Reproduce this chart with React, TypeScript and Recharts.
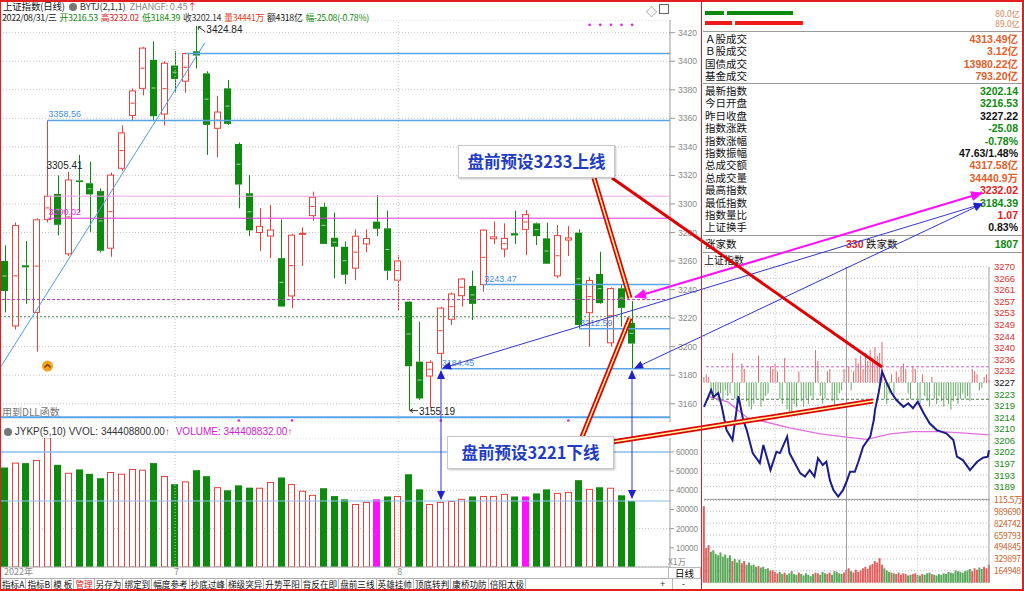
import React from "react";
import {
  Bar,
  BarChart,
  CartesianGrid,
  Cell,
  ComposedChart,
  Line,
  ReferenceDot,
  ReferenceLine,
  XAxis,
  YAxis,
} from "recharts";

const FONT = "'Liberation Sans', 'Noto Sans CJK SC', sans-serif";
const CJK = "'Noto Sans CJK SC', 'Liberation Sans', sans-serif";
const RED = "#e8413c";
const GREEN = "#0e8a0e";
const BLUE = "#5aa5e6";

// ---- daily candles (上证指数, 2022-06-09 .. 2022-08-31)
const dates = [
  "2022-06-09", "2022-06-10", "2022-06-13", "2022-06-14", "2022-06-15", "2022-06-16", "2022-06-17", "2022-06-20",
  "2022-06-21", "2022-06-22", "2022-06-23", "2022-06-24", "2022-06-27", "2022-06-28", "2022-06-29", "2022-06-30",
  "2022-07-01", "2022-07-04", "2022-07-05", "2022-07-06", "2022-07-07", "2022-07-08", "2022-07-11", "2022-07-12",
  "2022-07-13", "2022-07-14", "2022-07-15", "2022-07-18", "2022-07-19", "2022-07-20", "2022-07-21", "2022-07-22",
  "2022-07-25", "2022-07-26", "2022-07-27", "2022-07-28", "2022-07-29",
  "2022-08-01", "2022-08-02", "2022-08-03", "2022-08-04", "2022-08-05", "2022-08-08", "2022-08-09", "2022-08-10",
  "2022-08-11", "2022-08-12", "2022-08-15", "2022-08-16", "2022-08-17", "2022-08-18", "2022-08-19", "2022-08-22",
  "2022-08-23", "2022-08-24", "2022-08-25", "2022-08-26", "2022-08-29", "2022-08-30", "2022-08-31",
];
const opens = [
  3260, 3214.5, 3257, 3224, 3289, 3307, 3265, 3316.5, 3314.5, 3309,
  3269, 3325, 3362, 3381, 3401, 3363, 3397, 3386, 3407, 3391.5,
  3353, 3381, 3342, 3307.5, 3280, 3277.5, 3262, 3235.5, 3279, 3291.8,
  3298, 3276.3, 3270, 3255, 3272, 3287.6, 3282.9, 3246.6, 3231.5, 3189.5,
  3179.4, 3195.3, 3219.2, 3235.7, 3242.5, 3243.47, 3275.6, 3268.4, 3279.5, 3282.2,
  3286.4, 3275.9, 3249.6, 3274.7, 3279.9, 3223.8, 3250.9, 3202.7, 3240.9, 3216.53,
];
const highs = [
  3271, 3287, 3274, 3290, 3358.56, 3320, 3322.6, 3334.3, 3329.6, 3311,
  3322, 3355, 3381, 3410, 3414, 3400, 3407, 3406, 3424.84, 3393,
  3375.7, 3386.9, 3343, 3320.3, 3297, 3299.3, 3289.2, 3279, 3283.6, 3308.6,
  3300.9, 3293.9, 3273.5, 3282.2, 3282.2, 3306.2, 3295.3, 3264, 3232, 3217.5,
  3190.5, 3228, 3238, 3248, 3253.2, 3282, 3287.6, 3286.4, 3295.3, 3295.8,
  3287, 3286.9, 3285.2, 3284.5, 3282.2, 3249, 3266.5, 3241.5, 3243.2, 3232.02,
];
const lows = [
  3224, 3212, 3230, 3196.5, 3287, 3278, 3263.5, 3293.9, 3280.5, 3266,
  3263, 3323, 3358, 3376, 3358, 3355, 3378, 3378, 3395, 3334.3,
  3332.7, 3355.3, 3297, 3277.5, 3267, 3262, 3228, 3226.9, 3256.5, 3288.3,
  3272, 3247.9, 3243.9, 3246.6, 3266, 3277.5, 3246.6, 3225.7, 3155.19, 3162.6,
  3157, 3184.45, 3215.2, 3228, 3218.7, 3238.5, 3272, 3262.6, 3272, 3264,
  3271.2, 3258, 3248, 3263.5, 3212.59, 3200, 3230, 3200, 3214, 3184.39,
];
const closes = [
  3239, 3284.8, 3255.6, 3288.9, 3305.41, 3285.4, 3316.8, 3315.4, 3306.7, 3267.2,
  3320.2, 3349.8, 3379.2, 3409.2, 3361.5, 3398.6, 3387.6, 3405.4, 3404, 3355.4,
  3364.4, 3356.1, 3313.6, 3281.5, 3284.3, 3281.7, 3228.1, 3278.1, 3279.4, 3304.7,
  3272, 3270, 3250.4, 3277.4, 3275.8, 3282.6, 3253.2, 3260, 3186.3, 3163.7,
  3189, 3227, 3236.9, 3247.4, 3230, 3281.7, 3276.9, 3275.9, 3277.9, 3292.5,
  3277.5, 3258.1, 3277.8, 3276.2, 3215.2, 3246.3, 3230.5, 3240.7, 3227.2, 3202.14,
];
// volume, 万股
const volumes = [
  51900, 54200, 54200, 55600, 67400, 53300, 48900, 50900, 48600, 46300,
  49300, 48400, 50900, 50500, 54200, 47200, 43200, 44400, 50500, 47400,
  41400, 40000, 42600, 41400, 41100, 44100, 46700, 43000, 39500, 37400,
  41100, 37000, 35300, 32600, 33700, 35300, 36800, 36800, 48400, 40500,
  32600, 33700, 34200, 35300, 36800, 36800, 36800, 37900, 36800, 36800,
  38400, 40500, 38400, 38900, 45300, 40500, 41600, 41100, 37400, 34441,
];
const lowVolDates = ["2022-07-28", "2022-08-17"];

const priceTicks = [3160, 3180, 3200, 3220, 3240, 3260, 3280, 3300, 3320, 3340, 3360, 3380, 3400, 3420];
const volTicks = [10000, 20000, 30000, 40000, 50000, 60000];

// drawn levels: value, first candle, colour, label
const levelValues = [3405.43, 3358.56, 3305.41, 3290.02, 3243.47, 3212.59, 3184.45];
const levelStarts = [17, 4, 4, 4, 45, 54, 41];
const levelColors = [BLUE, BLUE, "#f3a6ee", "#dd33dd", BLUE, BLUE, BLUE];
const levelLabels = ["", "3358.56", "", "3290.02", "3243.47", "3212.59", "3184.45"];
const upperPlan = 3233;
const lowerPlan = 3221;
const topSignals = [55, 56, 57, 58, 59];
const bottomSignals = [22, 27, 41, 53];
const buySignal = 4;

// ---- intraday (2022-08-31)
const PREV_CLOSE = 3227.22;
const intraTicks = [
  3270, 3265.72, 3261.45, 3257.17, 3252.89, 3248.61, 3244.33, 3240.05, 3235.78, 3231.5, 3227.22,
  3222.94, 3218.66, 3214.38, 3210.1, 3205.83, 3201.55, 3197.27, 3192.99, 3188.71,
];
const priceMin = [
  0, 6, 8, 12, 15, 19, 24, 29, 33, 36, 41, 47, 50, 56, 61, 64, 70, 72, 81, 85,
  89, 93, 96, 100, 103, 106, 109, 113, 117, 120, 123, 127, 130, 134, 140, 143, 144, 147, 150, 154,
  158, 162, 168, 172, 176, 180, 185, 190, 196, 204, 210, 213, 218, 224, 230, 235, 239, 240,
];
const priceVal = [
  3218.2, 3224.4, 3221.8, 3223.3, 3218.2, 3209.6, 3205.9, 3222.2, 3213.3, 3209.6,
  3201.1, 3197.4, 3204.1, 3194.8, 3201.6, 3201.1, 3207.2, 3201.1, 3193.7, 3192.4,
  3194.8, 3192.4, 3199.2, 3196.7, 3197.9, 3191.1, 3187.4, 3185.0, 3187.4, 3190.5,
  3194.2, 3194.2, 3197.9, 3203.5, 3207.2, 3213.3, 3217.0, 3223.2, 3231.2, 3226.9,
  3223.3, 3220.7, 3218.2, 3219.5, 3217.7, 3220.1, 3215.8, 3212.1, 3209.6, 3208.4,
  3205.9, 3199.8, 3198.5, 3194.8, 3197.9, 3199.4, 3199.8, 3202.14,
];
const avgMin = [4, 20, 37, 53, 72, 98, 120, 137, 157, 176, 199, 220, 240];
const avgVal = [3222, 3220, 3214, 3212.5, 3210.4, 3208.2, 3207, 3206.2, 3208.2, 3209, 3209, 3208.5, 3207.8];
// 涨跌 breadth bars, every 2 minutes, points above/below previous close
const breadth = [
  2, 3, 2, -4, -6, -5, -7, -4, -6, -3, -5, -4, 11, -6, -8, -5, 7, 5, -7, -9,
  -10, -8, -6, 10, -9, -7, -5, -4, 6, 5, 7, 4, -6, -8, 9, -10, -12, -11, -8, -9,
  4, -7, -9, -6, -8, -5, -6, 12, 8, -5, -8, -6, 4, 5, -7, -9, -6, -4, -3, 5,
  8, 6, -3, 4, 9, 7, 10, 5, 11, 8, 12, 9, 13, 10, 11, 15, -6, -8, -4, 3,
  -5, 4, 2, 6, 7, 5, -4, -6, 6, 5, -6, -8, 3, -5, -7, -9, 2, -6, -8, -5,
  -7, -9, -6, -8, -10, -7, -5, -8, -6, -4, -6, -5, -7, 5, 4, 3, -3, -2, 2, 3, 1,
];
// minute volume, every 2 minutes
const intraVol = [
  1060000, 480000, 520000, 430000, 450000, 400000, 380000, 420000, 360000, 390000, 340000,
  380000, 300000, 330000, 280000, 320000, 270000, 300000, 250000, 280000, 240000,
  250000, 220000, 230000, 210000, 220000, 190000, 200000, 170000, 170000, 150000,
  130000, 150000, 120000, 140000, 110000, 130000, 160000, 120000, 110000, 140000,
  120000, 100000, 130000, 110000, 90000, 120000, 140000, 130000, 110000, 150000,
  130000, 120000, 140000, 110000, 160000, 150000, 130000, 120000, 140000, 180000,
  200000, 160000, 140000, 180000, 150000, 170000, 200000, 220000, 190000, 240000,
  260000, 300000, 280000, 340000, 250000, 200000, 170000, 150000, 140000, 130000,
  120000, 140000, 110000, 130000, 120000, 100000, 110000, 120000, 130000, 110000,
  100000, 120000, 110000, 130000, 140000, 120000, 110000, 100000, 120000, 110000,
  130000, 120000, 150000, 140000, 130000, 170000, 160000, 150000, 140000, 160000,
  170000, 190000, 160000, 200000, 180000, 210000, 190000, 220000, 200000, 250000,
];
const intraVolTicks = [164948, 329897, 494845, 659793, 824742, 989690, 1154638];

// ---- right info panel
const flowLabels = ["80.0亿", "89.0亿"];
const flowFirst = [20, 27.3];
const flowSecond = [60, 61.7];
const marketLabels = ["Ａ股成交", "Ｂ股成交", "国债成交", "基金成交"];
const marketValues = ["4313.49亿", "3.12亿", "13980.22亿", "793.20亿"];
const indexLabels = [
  "最新指数", "今日开盘", "昨日收盘", "指数涨跌", "指数涨幅", "指数振幅",
  "总成交额", "总成交量", "最高指数", "最低指数", "指数量比", "上证换手",
];
const indexValues = [
  "3202.14", "3216.53", "3227.22", "-25.08", "-0.78%", "47.63/1.48%",
  "4317.58亿", "34440.9万", "3232.02", "3184.39", "1.07", "0.83%",
];
const indexColors = [
  GREEN, GREEN, "#111", GREEN, GREEN, "#111",
  "#e0602a", "#e0602a", "#e02020", GREEN, "#e02020", "#111",
];
const toolButtons = [
  "指标A", "指标B", "模 板", "管理", "另存为", "绑定到", "幅度参考", "抄底过峰",
  "梯级突异", "升势平阳", "背反在即", "盘前三线", "英雄挂帅", "顶底转判", "康桥功防", "倍阳太极",
];

const candles = dates.map((d, i) => ({
  i,
  d,
  o: opens[i],
  h: highs[i],
  l: lows[i],
  c: closes[i],
  range: [lows[i], highs[i]],
  vol: volumes[i],
  pink: lowVolDates.includes(d),
}));
const monthStarts = dates
  .map((d, i) => (i === 0 || d.slice(5, 7) !== dates[i - 1].slice(5, 7) ? i : -1))
  .filter((i) => i >= 0);
const hiIdx = highs.indexOf(Math.max(...highs));
const loIdx = lows.indexOf(Math.min(...lows));
const last = candles.length - 1;
const X_DOMAIN: [number, number] = [-0.47, 62.56];

const breadthData = breadth.map((b, k) => ({
  m: k * 2,
  rng: [Math.min(PREV_CLOSE, PREV_CLOSE + b), Math.max(PREV_CLOSE, PREV_CLOSE + b)],
  up: b > 0,
}));
const priceData = priceMin.map((m, k) => ({ m, v: priceVal[k] }));
const avgData = avgMin.map((m, k) => ({ m, v: avgVal[k] }));
const intraVolData = intraVol.map((v, k) => ({ m: k * 2, v, up: breadth[k] > 0 }));
const flowData = flowLabels.map((name, k) => ({ name, a: flowFirst[k], b: flowSecond[k] }));

function Candle(props: any) {
  const { x, y, width, height, payload } = props;
  if (x == null || !payload) return null;
  const { o, h, l, c } = payload;
  const top0 = height < 0 ? y + height : y;
  const hh = Math.abs(height);
  const k = h > l ? hh / (h - l) : 0;
  const bTop = top0 + (h - Math.max(o, c)) * k;
  const bBot = top0 + (h - Math.min(o, c)) * k;
  const bh = Math.max(bBot - bTop, 1);
  const cx = Math.floor(x + width / 2) + 0.5;
  const bx = Math.floor(x) + 0.5;
  const bw = Math.round(width) - 1;
  const up = c >= o;
  const col = up ? RED : GREEN;
  const mid = bTop + bh / 2;
  return (
    <g>
      <line x1={cx} x2={cx} y1={top0} y2={bTop} stroke={col} />
      <line x1={cx} x2={cx} y1={bTop + bh} y2={top0 + hh} stroke={col} />
      {up ? (
        <rect x={bx} y={bTop} width={bw} height={bh} fill="#fff" stroke={col} />
      ) : (
        <rect x={bx - 0.5} y={bTop} width={bw + 1} height={bh} fill={col} />
      )}
      {bh > 8 && (
        <line x1={bx + 1} x2={bx + bw - 1} y1={mid} y2={mid} stroke={up ? col : "#a6d8a6"} />
      )}
    </g>
  );
}

function VolBar(props: any) {
  const { x, y, width, height, payload } = props;
  if (x == null || !payload) return null;
  const bx = Math.floor(x) + 0.5;
  const bw = Math.round(width) - 1;
  if (payload.pink) return <rect x={bx - 0.5} y={y} width={bw + 1} height={height} fill="#ff10ff" />;
  if (payload.c >= payload.o)
    return <rect x={bx} y={y} width={bw} height={height} fill="#fff" stroke={RED} />;
  return <rect x={bx - 0.5} y={y} width={bw + 1} height={height} fill={GREEN} />;
}

const levelLabel = (text: string, color: string) => (p: any) =>
  text ? (
    <text x={p.viewBox.x + 1} y={p.viewBox.y - 3} fill={color} fontSize={9} fontFamily={FONT}>
      {text}
    </text>
  ) : null;

const axisTick = { fontSize: 8.6, fill: "#8a8a8a", fontFamily: FONT };

function MainChart() {
  return (
    <ComposedChart width={702} height={402} data={candles} margin={{ top: 0, right: 0, bottom: 0, left: 0 }}>
      <CartesianGrid vertical={false} stroke="#c4c4c4" strokeDasharray="1 2" />
      <XAxis dataKey="i" type="number" domain={X_DOMAIN} hide allowDataOverflow />
      <YAxis
        orientation="right"
        width={32}
        domain={[3147.2, 3428.9]}
        ticks={priceTicks}
        allowDataOverflow
        tick={axisTick}
        tickSize={5}
        tickMargin={3}
        axisLine={{ stroke: "#9a9a9a" }}
        tickLine={{ stroke: "#9a9a9a" }}
      />
      {monthStarts.slice(1).map((i) => (
        <ReferenceLine key={i} x={i} stroke="#c4c4c4" strokeDasharray="1 2" />
      ))}
      <ReferenceLine y={3150.6} stroke={BLUE} strokeWidth={2} />
      <ReferenceLine y={upperPlan} stroke="#b23fc4" strokeDasharray="3 2" />
      <ReferenceLine y={lowerPlan} stroke="#4f8f4f" strokeDasharray="2 2" />
      {levelValues.map((v, k) => (
        <ReferenceLine
          key={v}
          segment={[
            { x: levelStarts[k], y: v },
            { x: X_DOMAIN[1], y: v },
          ]}
          stroke={levelColors[k]}
          strokeWidth={levelColors[k] === BLUE ? 1.5 : 1}
          label={levelLabel(levelLabels[k], levelColors[k] === BLUE ? "#3f8fe0" : levelColors[k])}
        />
      ))}
      <ReferenceLine
        segment={[
          { x: X_DOMAIN[0], y: 3185 },
          { x: 18.8, y: 3413 },
        ]}
        stroke="#4f9ee0"
        strokeWidth={1}
      />
      <Bar dataKey="range" barSize={7} shape={(p: any) => <Candle {...p} />} isAnimationActive={false} />
      <ReferenceDot
        x={hiIdx}
        y={highs[hiIdx]}
        r={0}
        shape={(p: any) => (
          <g>
            <path d={`M${p.cx + 2},${p.cy + 1} l7,5 M${p.cx + 2},${p.cy + 1} l3,0 M${p.cx + 2},${p.cy + 1} l0,3`} stroke="#333" fill="none" />
            <text x={p.cx + 10} y={p.cy + 7} fontSize={10} fill="#222" fontFamily={FONT}>
              {highs[hiIdx].toFixed(2)}
            </text>
          </g>
        )}
      />
      <ReferenceDot
        x={loIdx}
        y={lows[loIdx]}
        r={0}
        shape={(p: any) => (
          <g>
            <path d={`M${p.cx + 1},${p.cy} l8,0 M${p.cx + 1},${p.cy} l3,-2 M${p.cx + 1},${p.cy} l3,2`} stroke="#333" fill="none" />
            <text x={p.cx + 10} y={p.cy + 4} fontSize={10} fill="#222" fontFamily={FONT}>
              {lows[loIdx].toFixed(2)}
            </text>
          </g>
        )}
      />
      <ReferenceDot
        x={4}
        y={closes[4]}
        r={0}
        shape={(p: any) => (
          <text x={p.cx - 1} y={p.cy - 27} fontSize={10} fill="#222" fontFamily={FONT}>
            {closes[4].toFixed(2)}
          </text>
        )}
      />
      <ReferenceDot
        x={buySignal}
        y={3186.4}
        r={0}
        shape={(p: any) => (
          <g>
            <circle cx={p.cx} cy={p.cy} r={5.5} fill="#f5a31a" />
            <path d={`M${p.cx - 3},${p.cy + 1.5} L${p.cx},${p.cy - 1.5} L${p.cx + 3},${p.cy + 1.5}`} stroke="#7a3a00" strokeWidth={1.4} fill="none" />
          </g>
        )}
      />
      {topSignals.map((i) => (
        <ReferenceDot key={"t" + i} x={i} y={3425.5} r={1.3} fill="#e020e0" stroke="none" />
      ))}
      {bottomSignals.map((i) => (
        <ReferenceDot key={"b" + i} x={i} y={3148.3} r={1.3} fill="#e020e0" stroke="none" />
      ))}
    </ComposedChart>
  );
}

function DateTick(p: any) {
  const i = p.payload.value;
  const label = i === 0 ? dates[0].slice(0, 4) + "年" : String(Number(dates[i].slice(5, 7)));
  return (
    <text x={p.x - 1} y={p.y + 6} fontSize={9} fill="#8a8a8a" fontFamily={CJK}>
      {label}
    </text>
  );
}

function VolumeChart() {
  return (
    <ComposedChart width={702} height={145} data={candles} margin={{ top: 0, right: 0, bottom: 0, left: 0 }}>
      <CartesianGrid vertical={false} stroke="#c4c4c4" strokeDasharray="1 2" />
      <XAxis
        dataKey="i"
        type="number"
        domain={X_DOMAIN}
        allowDataOverflow
        ticks={monthStarts}
        height={16}
        tick={(p: any) => <DateTick {...p} />}
        tickSize={0}
        axisLine={{ stroke: "#a8a8a8" }}
      />
      <YAxis
        orientation="right"
        width={32}
        domain={[0, 67300]}
        ticks={volTicks}
        allowDataOverflow
        tick={{ ...axisTick, fontSize: 8.2, letterSpacing: -0.2 }}
        tickSize={4}
        tickMargin={2}
        axisLine={{ stroke: "#9a9a9a" }}
        tickLine={{ stroke: "#9a9a9a" }}
      />
      {monthStarts.slice(1).map((i) => (
        <ReferenceLine key={i} x={i} stroke="#c4c4c4" strokeDasharray="1 2" />
      ))}
      <ReferenceLine y={60000} stroke="#8cc0ee" strokeWidth={1.5} />
      <ReferenceLine y={volumes[last]} stroke="#8cc0ee" strokeWidth={1} />
      <Bar dataKey="vol" barSize={7} shape={(p: any) => <VolBar {...p} />} isAnimationActive={false} />
    </ComposedChart>
  );
}

function IntraTick(p: any) {
  const v = p.payload.value;
  const col = Math.abs(v - PREV_CLOSE) < 0.01 ? "#111" : v > PREV_CLOSE ? "#e03030" : "#1a8a1a";
  return (
    <text x={p.x + 1} y={p.y + 3.5} fontSize={9.5} fill={col} fontFamily={FONT}>
      {Math.round(v)}
    </text>
  );
}

function IntradayChart() {
  return (
    <ComposedChart width={322} height={244} data={breadthData} margin={{ top: 4.7, right: 0, bottom: 5.3, left: 2 }}>
      <CartesianGrid vertical={false} stroke="#bdbdbd" strokeDasharray="1 2" />
      <XAxis dataKey="m" type="number" domain={[0, 240]} hide />
      <YAxis
        orientation="right"
        width={35}
        domain={[3183.5, 3270]}
        ticks={intraTicks}
        interval={0}
        allowDataOverflow
        tick={(p: any) => <IntraTick {...p} />}
        tickSize={2}
        tickLine={false}
        axisLine={false}
      />
      <ReferenceLine x={60} stroke="#bdbdbd" strokeDasharray="1 2" />
      <ReferenceLine x={120} stroke="#a0a0a0" />
      <ReferenceLine x={180} stroke="#bdbdbd" strokeDasharray="1 2" />
      <ReferenceLine x={240} stroke="#9a9a9a" />
      <ReferenceLine y={upperPlan} stroke="#d060d0" strokeDasharray="3 2" />
      <ReferenceLine y={lowerPlan} stroke="#4f7f4f" strokeDasharray="3 2" />
      <Bar dataKey="rng" barSize={1} isAnimationActive={false}>
        {breadthData.map((d, k) => (
          <Cell key={k} fill={d.up ? "#e06a6a" : "#62ad62"} />
        ))}
      </Bar>
      <Line data={avgData} dataKey="v" stroke="#e070e0" strokeWidth={1.3} dot={false} isAnimationActive={false} />
      <Line data={priceData} dataKey="v" stroke="#1c1c8c" strokeWidth={2} dot={false} isAnimationActive={false} />
    </ComposedChart>
  );
}

function IntraVolTick(p: any) {
  const v = p.payload.value;
  return (
    <text x={p.x + 1} y={p.y + 3.5} fontSize={8.6} letterSpacing={-0.3} fill="#c8642a" fontFamily={CJK}>
      {v > 1100000 ? (v / 10000).toFixed(1) + "万" : String(v)}
    </text>
  );
}

function IntradayVolume() {
  return (
    <BarChart width={322} height={92} data={intraVolData} margin={{ top: 7.4, right: 0, bottom: 1.3, left: 2 }}>
      <CartesianGrid vertical={false} stroke="#bdbdbd" strokeDasharray="1 2" />
      <XAxis dataKey="m" type="number" domain={[0, 240]} hide />
      <YAxis
        orientation="right"
        width={35}
        domain={[0, 1154638]}
        ticks={intraVolTicks}
        interval={0}
        tick={(p: any) => <IntraVolTick {...p} />}
        tickSize={2}
        tickLine={false}
        axisLine={{ stroke: "#9a9a9a" }}
      />
      <ReferenceLine x={60} stroke="#bdbdbd" strokeDasharray="1 2" />
      <ReferenceLine x={120} stroke="#a0a0a0" />
      <ReferenceLine x={180} stroke="#bdbdbd" strokeDasharray="1 2" />
      <ReferenceLine y={1154638} stroke="#9a9a9a" />
      <Bar dataKey="v" barSize={2} isAnimationActive={false}>
        {intraVolData.map((d, k) => (
          <Cell key={k} fill={d.up ? "#e06060" : "#5aa85a"} />
        ))}
      </Bar>
    </BarChart>
  );
}

function FlowBars() {
  const seg = (color: string, gap: number) => (p: any) =>
    <rect x={p.x} y={p.y} width={Math.max(p.width - gap, 0)} height={p.height} fill={color} />;
  return (
    <BarChart width={264} height={20} data={flowData} layout="vertical" margin={{ top: 0, right: 0, bottom: 0, left: 0 }}>
      <XAxis type="number" domain={[0, 240]} hide />
      <YAxis type="category" dataKey="name" hide />
      <Bar dataKey="a" stackId="s" barSize={4} isAnimationActive={false} shape={(p: any) => seg(p.index === 0 ? "#0a8a0a" : "#f01818", 3)(p)} />
      <Bar dataKey="b" stackId="s" barSize={4} isAnimationActive={false} shape={(p: any) => seg(p.index === 0 ? "#0a8a0a" : "#f01818", 0)(p)} />
    </BarChart>
  );
}

const abs = (l: number, t: number, extra: React.CSSProperties = {}): React.CSSProperties => ({
  position: "absolute",
  left: l,
  top: t,
  whiteSpace: "nowrap",
  ...extra,
});

function InfoPanel() {
  const labelStyle = { fontFamily: CJK, fontSize: 10.5, color: "#111", lineHeight: "12px" };
  const valStyle = { fontFamily: FONT, fontSize: 10.5, fontWeight: 700 as const, lineHeight: "12px", textAlign: "right" as const };
  return (
    <>
      <div style={abs(705, 8)}>
        <FlowBars />
      </div>
      {flowLabels.map((t, k) => (
        <div key={t} style={abs(960, 8 + k * 10, { width: 60, textAlign: "right", fontSize: 8.4, color: "#d98050", fontFamily: CJK, lineHeight: "10px" })}>
          {t}
        </div>
      ))}
      <div style={abs(703, 31, { width: 319, height: 1, background: "#9a9a9a" })} />
      {marketLabels.map((t, k) => (
        <React.Fragment key={t}>
          <div style={abs(705, 33 + k * 12.3, labelStyle)}>{t}</div>
          <div style={abs(900, 33 + k * 12.3, { ...valStyle, width: 118, color: "#e0602a" })}>{marketValues[k]}</div>
        </React.Fragment>
      ))}
      <div style={abs(703, 83, { width: 319, height: 1, background: "#9a9a9a" })} />
      {indexLabels.map((t, k) => (
        <React.Fragment key={t}>
          <div style={abs(705, 85 + k * 12.4, labelStyle)}>{t}</div>
          <div style={abs(900, 85 + k * 12.4, { ...valStyle, width: 118, color: indexColors[k] })}>{indexValues[k]}</div>
        </React.Fragment>
      ))}
      <div style={abs(703, 235, { width: 319, height: 1, background: "#9a9a9a" })} />
      <div style={abs(705, 238, labelStyle)}>涨家数</div>
      <div style={abs(846, 238, { ...valStyle, color: "#e02020" })}>330</div>
      <div style={abs(866, 238, labelStyle)}>跌家数</div>
      <div style={abs(900, 238, { ...valStyle, width: 118, color: GREEN })}>1807</div>
      <div style={abs(703, 252, { width: 319, height: 1, background: "#9a9a9a" })} />
      <div style={abs(704, 254, { fontFamily: CJK, fontSize: 10, color: "#111", lineHeight: "12px" })}>上证指数</div>
    </>
  );
}

function Header() {
  const s = (t: string, c: string, gap = 3) => <span style={{ color: c, marginRight: gap }}>{t}</span>;
  const q = candles[last];
  return (
    <>
      <div style={abs(3, 1, { fontSize: 9.5, lineHeight: "11px", fontFamily: CJK, color: "#111", letterSpacing: -0.2 })}>
        {s("上证指数(日线)", "#111", 4)}
        <span style={{ display: "inline-block", width: 8, height: 8, borderRadius: 4, background: "#777", verticalAlign: -1, marginRight: 3 }} />
        {s("BYTJ(2,1,1)", "#333", 4)}
        {s("ZHANGF: 0.45", "#8a8a8a", 0)}
        {s("↑", "#e02020")}
      </div>
      <div style={abs(2, 13, { fontSize: 8.8, lineHeight: "10px", fontFamily: CJK, letterSpacing: -0.3 })}>
        {s(q.d.replace(/-/g, "/") + "/三", "#111")}
        {s("开" + q.o.toFixed(2), GREEN)}
        {s("高" + q.h.toFixed(2), "#e02020")}
        {s("低" + q.l.toFixed(2), GREEN)}
        {s("收" + q.c.toFixed(2), "#333")}
        {s("量" + q.vol + "万", "#e04020")}
        {s("额4318亿", "#111")}
        {s("幅-25.08(-0.78%)", GREEN)}
      </div>
      <div style={abs(646, 3, { fontSize: 11, color: "#666" })}>◇</div>
      <div style={abs(659, 4, { width: 8, height: 8, border: "1px solid #666" })} />
      <div style={abs(2, 406, { fontSize: 10, fontFamily: CJK, color: "#777", lineHeight: "12px" })}>用到DLL函数</div>
      <div style={abs(4, 426, { fontSize: 10, lineHeight: "12px", fontFamily: FONT, color: "#333" })}>
        <span style={{ display: "inline-block", width: 8, height: 8, borderRadius: 4, background: "#777", verticalAlign: -1 }} />{" "}
        JYKP(5,10) VVOL: {(q.vol * 10000 - 1200).toFixed(2)}
        {s("↑", "#e02020")} {s("VOLUME: 344408832.00", "#d020d0", 0)}
        {s("↑", "#e02020")}
      </div>
      <div style={abs(668, 556, { fontSize: 8.5, fontFamily: CJK, color: "#888", lineHeight: "10px" })}>X1万</div>
    </>
  );
}

function Toolbar() {
  return (
    <>
      <div style={abs(0, 578, { width: 700, height: 1, background: "#b0b0b0" })} />
      <div style={abs(1, 579, { display: "flex", height: 10, fontFamily: CJK, fontSize: 8.6, lineHeight: "10px" })}>
        {toolButtons.map((t) => (
          <div key={t} style={{ padding: "0 1px", borderRight: "1px solid #b8b8b8", color: t === "管理" ? "#e02020" : "#111" }}>
            {t}
          </div>
        ))}
      </div>
      <div style={abs(668, 567, { width: 31, height: 10, border: "1px solid #b8b8b8", fontSize: 9.5, fontFamily: CJK, textAlign: "center", lineHeight: "10px", background: "#fff" })}>
        日线
      </div>
      <div style={abs(660, 579, { fontSize: 9, lineHeight: "10px", color: "#333" })}>+</div>
      <div style={abs(672, 579, { width: 1, height: 10, background: "#b8b8b8" })} />
      <div style={abs(682, 579, { fontSize: 9, lineHeight: "10px", color: "#333" })}>-</div>
    </>
  );
}

function Overlay() {
  const dbl = (x1: number, y1: number, x2: number, y2: number) => (
    <g>
      <line x1={x1} y1={y1} x2={x2} y2={y2} stroke="#e00000" strokeWidth={5} />
      <line x1={x1} y1={y1} x2={x2} y2={y2} stroke="#fff6a0" strokeWidth={1.6} />
    </g>
  );
  return (
    <svg width={1024} height={591} style={{ position: "absolute", left: 0, top: 0, pointerEvents: "none" }}>
      <defs>
        <marker id="ab" markerWidth="9" markerHeight="8" refX="8" refY="4" orient="auto-start-reverse" markerUnits="userSpaceOnUse">
          <path d="M0,0 L9,4 L0,8 z" fill="#2020d0" />
        </marker>
        <marker id="am" markerWidth="12" markerHeight="10" refX="11" refY="5" orient="auto-start-reverse" markerUnits="userSpaceOnUse">
          <path d="M0,0 L12,5 L0,10 z" fill="#ff10ff" />
        </marker>
      </defs>
      <line x1={443} y1={368} x2={982} y2={204} stroke="#3434d0" markerStart="url(#ab)" markerEnd="url(#ab)" />
      <line x1={635} y1={368} x2={982} y2={204} stroke="#3434d0" markerStart="url(#ab)" markerEnd="url(#ab)" />
      <line x1={441} y1={371} x2={441} y2={499} stroke="#3434d0" markerStart="url(#ab)" markerEnd="url(#ab)" />
      <line x1={632} y1={371} x2={632} y2={498} stroke="#3434d0" markerStart="url(#ab)" markerEnd="url(#ab)" />
      <line x1={635} y1={297} x2={982} y2={193} stroke="#ff10ff" strokeWidth={2} markerStart="url(#am)" markerEnd="url(#am)" />
      {dbl(594, 178, 630, 298)}
      <line x1={612} y1={178} x2={882} y2={367} stroke="#e00000" strokeWidth={3} />
      {dbl(582, 437, 630, 318)}
      {dbl(612, 442, 873, 401)}
      <line x1={0} y1={1} x2={1024} y2={1} stroke="#e02020" strokeWidth={2} />
      <line x1={0.5} y1={0} x2={0.5} y2={591} stroke="#e02020" />
      <line x1={701.5} y1={0} x2={701.5} y2={591} stroke="#e02020" />
      <line x1={1023} y1={0} x2={1023} y2={591} stroke="#e02020" strokeWidth={2} />
      <line x1={0} y1={590} x2={1024} y2={590} stroke="#e02020" strokeWidth={2} />
    </svg>
  );
}

function Callout({ left, top, width, text }: { left: number; top: number; width: number; text: string }) {
  return (
    <div
      style={abs(left, top, {
        width,
        height: 31,
        background: "#fff",
        border: "1px solid #c8c8c8",
        boxShadow: "1px 1px 2px rgba(0,0,0,0.25)",
        color: "#1f3cc4",
        fontFamily: CJK,
        fontWeight: 700,
        fontSize: 16.5,
        lineHeight: "31px",
        textAlign: "center",
      })}
    >
      {text}
    </div>
  );
}

export default function App() {
  return (
    <div style={{ position: "fixed", left: 0, top: 0, width: 1024, height: 591, background: "#fff", overflow: "hidden", fontFamily: FONT }}>
      <Header />
      <div style={abs(0, 20)}>
        <MainChart />
      </div>
      <div style={abs(0, 438)}>
        <VolumeChart />
      </div>
      <Toolbar />
      <InfoPanel />
      <div style={abs(702, 492)}>
        <IntradayVolume />
      </div>
      <div style={abs(702, 262)}>
        <IntradayChart />
      </div>
      <Overlay />
      <Callout left={458} top={145} width={155} text="盘前预设3233上线" />
      <Callout left={447} top={436} width={165} text="盘前预设3221下线" />
    </div>
  );
}
